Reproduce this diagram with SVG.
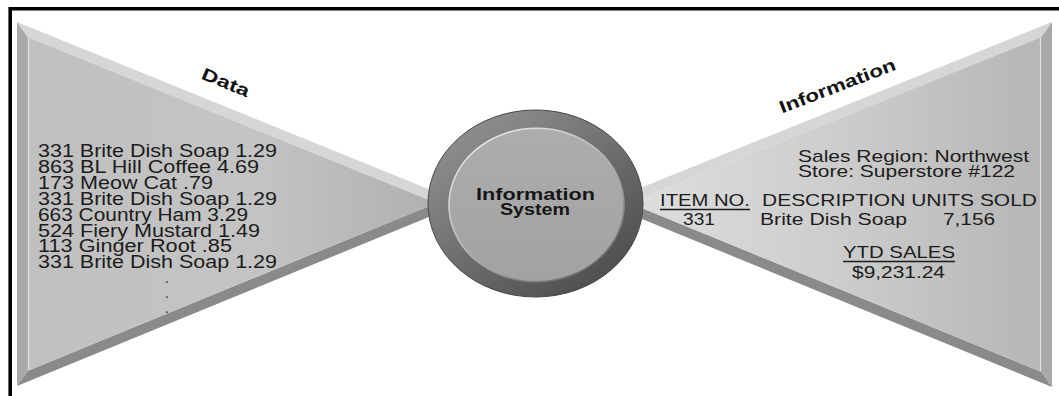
<svg xmlns="http://www.w3.org/2000/svg" width="1059" height="396" viewBox="0 0 1059 396">
  <defs>
    <linearGradient id="gLeftFace" x1="0" y1="0" x2="1" y2="0">
      <stop offset="0" stop-color="#c0c0c0"/>
      <stop offset="0.55" stop-color="#c4c4c4"/>
      <stop offset="1" stop-color="#b0b0b0"/>
    </linearGradient>
    <linearGradient id="gRightFace" x1="0" y1="0" x2="1" y2="0">
      <stop offset="0" stop-color="#dedede"/>
      <stop offset="0.5" stop-color="#cdcdcd"/>
      <stop offset="1" stop-color="#b6b6b6"/>
    </linearGradient>
    <linearGradient id="gRing" x1="0.15" y1="0.1" x2="0.85" y2="0.95">
      <stop offset="0" stop-color="#8e8e8e"/>
      <stop offset="0.55" stop-color="#6a6a6a"/>
      <stop offset="1" stop-color="#4c4c4c"/>
    </linearGradient>
    <linearGradient id="gDisk" x1="0" y1="0" x2="0" y2="1">
      <stop offset="0" stop-color="#adadad"/>
      <stop offset="1" stop-color="#a2a2a2"/>
    </linearGradient>
    <linearGradient id="gRim" x1="0.2" y1="0.1" x2="0.8" y2="0.9">
      <stop offset="0" stop-color="#e6e6e6"/>
      <stop offset="0.5" stop-color="#b8b8b8"/>
      <stop offset="1" stop-color="#707070"/>
    </linearGradient>
    <style>
      .t { font-family: "Liberation Sans", Arial, sans-serif; fill: #1c1c1c; white-space: pre; }
      .list { font-size: 17.5px; }
      .dot { font-family: "Liberation Sans", Arial, sans-serif; font-size: 10px; font-weight: bold; fill: #333; }
      .rt { font-size: 16.5px; }
      .lbl { font-family: "Liberation Sans", Arial, sans-serif; font-weight: bold; font-size: 17.5px; fill: #111; }
      .sys { font-family: "Liberation Sans", Arial, sans-serif; font-weight: bold; font-size: 16.5px; fill: #151515; }
      .ul { stroke: #1c1c1c; stroke-width: 1.5; }
      .bevLight { fill: #d6d6d6; }
      .bevDark { fill: #8a8a8a; }
      .bevSide { fill: #a9a9a9; }
      .hl { stroke: #e2e2e2; stroke-width: 1.2; fill: none; }
    </style>
  </defs>

  <rect x="0" y="0" width="1059" height="396" fill="#ffffff"/>

  <g id="frame">
    <path d="M10.2,396 V8.7 H1059" fill="none" stroke="#000" stroke-width="3.6"/>
  </g>

  <g id="data-node">
    <polygon class="bevSide" points="17,22 28,37.3 28,370.7 17,386"/>
    <polygon class="bevLight" points="17,22 463,203 436.5,203 28,37.3"/>
    <polygon class="bevDark" points="17,386 28,370.7 436.5,203 463,203"/>
    <polygon fill="url(#gLeftFace)" points="28,37.3 436.5,203 28,370.7"/>
    <line class="hl" x1="28.5" y1="38" x2="28.5" y2="370"/>
    <text class="lbl" x="223.5" y="88" text-anchor="middle" textLength="50" lengthAdjust="spacingAndGlyphs" transform="rotate(22.3 223.5 88)">Data</text>
    <g class="t list">
      <text x="38" y="157" textLength="239" lengthAdjust="spacingAndGlyphs">331 Brite Dish Soap  1.29</text>
      <text x="38" y="172.9" textLength="221" lengthAdjust="spacingAndGlyphs">863 BL Hill Coffee  4.69</text>
      <text x="38" y="188.8" textLength="175" lengthAdjust="spacingAndGlyphs">173 Meow Cat  .79</text>
      <text x="38" y="204.7" textLength="239" lengthAdjust="spacingAndGlyphs">331 Brite Dish Soap  1.29</text>
      <text x="38" y="220.6" textLength="210" lengthAdjust="spacingAndGlyphs">663 Country Ham 3.29</text>
      <text x="38" y="236.5" textLength="222" lengthAdjust="spacingAndGlyphs">524 Fiery Mustard  1.49</text>
      <text x="38" y="252.4" textLength="194" lengthAdjust="spacingAndGlyphs">113 Ginger Root  .85</text>
      <text x="38" y="268.3" textLength="239" lengthAdjust="spacingAndGlyphs">331 Brite Dish Soap  1.29</text>
    </g>
    <text class="dot" x="167" y="283" text-anchor="middle">.</text>
    <text class="dot" x="167" y="298" text-anchor="middle">.</text>
    <text class="dot" x="167" y="312.5" text-anchor="middle">.</text>
  </g>

  <g id="information-node">
    <polygon class="bevSide" points="1052,22 1041,37.2 1041,371.7 1052,387"/>
    <polygon class="bevLight" points="1052,22 603,203 629.5,203 1041,37.2"/>
    <polygon class="bevDark" points="1052,387 1041,371.7 629.5,203 603,203"/>
    <polygon fill="url(#gRightFace)" points="1041,37.2 629.5,203 1041,371.7"/>
    <line class="hl" x1="1040.5" y1="38" x2="1040.5" y2="371"/>
    <text class="lbl" x="839.5" y="91.5" text-anchor="middle" textLength="123" lengthAdjust="spacingAndGlyphs" transform="rotate(-21 839.5 91.5)">Information</text>
    <g class="t">
      <text x="798" y="162.3" font-size="17" textLength="231" lengthAdjust="spacingAndGlyphs">Sales Region: Northwest</text>
      <text x="798" y="176.7" font-size="17" textLength="217" lengthAdjust="spacingAndGlyphs">Store: Superstore #122</text>
      <text class="rt" x="660" y="206" textLength="90" lengthAdjust="spacingAndGlyphs">ITEM NO.</text>
      <text class="rt" x="762" y="206" textLength="275" lengthAdjust="spacingAndGlyphs">DESCRIPTION UNITS SOLD</text>
      <text class="rt" x="683" y="225" textLength="32" lengthAdjust="spacingAndGlyphs">331</text>
      <text class="rt" x="760" y="225" textLength="147" lengthAdjust="spacingAndGlyphs">Brite Dish Soap</text>
      <text class="rt" x="943" y="225" textLength="52" lengthAdjust="spacingAndGlyphs">7,156</text>
      <text class="rt" x="843" y="258" textLength="112" lengthAdjust="spacingAndGlyphs">YTD SALES</text>
      <text class="rt" x="852" y="278" textLength="93" lengthAdjust="spacingAndGlyphs">$9,231.24</text>
    </g>
    <line class="ul" x1="660" y1="209.6" x2="750" y2="209.6"/>
    <line class="ul" x1="843" y1="261.6" x2="955" y2="261.6"/>
  </g>

  <g id="information-system-node">
    <ellipse cx="535.5" cy="203.5" rx="107.5" ry="93.5" fill="url(#gRing)" stroke="#474747" stroke-width="1"/>
    <ellipse cx="536.5" cy="205" rx="87.5" ry="76.7" fill="url(#gDisk)" stroke="url(#gRim)" stroke-width="1.6"/>
    <text class="sys" x="535.5" y="200" text-anchor="middle" textLength="119" lengthAdjust="spacingAndGlyphs">Information</text>
    <text class="sys" x="535" y="215" text-anchor="middle" textLength="70" lengthAdjust="spacingAndGlyphs">System</text>
  </g>
</svg>
